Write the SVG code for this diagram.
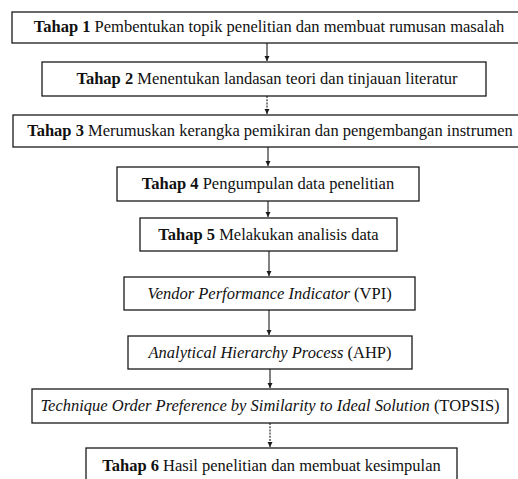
<svg xmlns="http://www.w3.org/2000/svg" width="518" height="479" viewBox="0 0 518 479">
<defs>
<marker id="ah" markerWidth="6" markerHeight="6" refX="5" refY="3" orient="auto" markerUnits="userSpaceOnUse">
<path d="M0,0.5 L5,3 L0,5.5 Z" fill="#1a1a1a"/>
</marker>
<style>
.box{fill:#fff;stroke:#1a1a1a;stroke-width:1.3}
.t{font-family:"Liberation Serif","Times New Roman",serif;font-size:16.5px;fill:#111;text-anchor:middle}
.b{font-weight:bold}
.i{font-style:italic}
.c{stroke:#1a1a1a;stroke-width:1.1;fill:none;marker-end:url(#ah)}
.d{stroke-dasharray:2 1.2}
</style>
</defs>
<rect width="518" height="479" fill="#fff"/>
<g id="connectors">
<line class="c" x1="267" y1="43" x2="267" y2="61"/>
<line class="c d" x1="267" y1="96" x2="267" y2="114"/>
<line class="c" x1="268" y1="147" x2="268" y2="166"/>
<line class="c" x1="268" y1="201" x2="268" y2="217"/>
<line class="c" x1="269" y1="251" x2="269" y2="276"/>
<line class="c" x1="269" y1="310" x2="269" y2="335"/>
<line class="c" x1="270" y1="369" x2="270" y2="388"/>
<line class="c d" x1="270" y1="423" x2="270" y2="447"/>
</g>
<g id="n1">
<rect class="box" x="12" y="12" width="520" height="31"/>
<text class="t" x="269" y="32"><tspan class="b">Tahap 1</tspan> Pembentukan topik penelitian dan membuat rumusan masalah</text>
</g>
<g id="n2">
<rect class="box" x="42" y="62" width="444" height="34"/>
<text class="t" x="267" y="84"><tspan class="b">Tahap 2</tspan> Menentukan landasan teori dan tinjauan literatur</text>
</g>
<g id="n3">
<rect class="box" x="13" y="115" width="520" height="32"/>
<text class="t" x="270" y="136"><tspan class="b">Tahap 3</tspan> Merumuskan kerangka pemikiran dan pengembangan instrumen</text>
</g>
<g id="n4">
<rect class="box" x="117" y="167" width="302" height="34"/>
<text class="t" x="268" y="189"><tspan class="b">Tahap 4</tspan> Pengumpulan data penelitian</text>
</g>
<g id="n5">
<rect class="box" x="140" y="218" width="257" height="33"/>
<text class="t" x="268.5" y="240"><tspan class="b">Tahap 5</tspan> Melakukan analisis data</text>
</g>
<g id="n6">
<rect class="box" x="124" y="277" width="291" height="33"/>
<text class="t" x="269.5" y="299"><tspan class="i">Vendor Performance Indicator</tspan> (VPI)</text>
</g>
<g id="n7">
<rect class="box" x="128" y="336" width="284" height="33"/>
<text class="t" x="270" y="358"><tspan class="i">Analytical Hierarchy Process</tspan> (AHP)</text>
</g>
<g id="n8">
<rect class="box" x="32" y="389" width="476" height="34"/>
<text class="t" x="270" y="411"><tspan class="i">Technique Order Preference by Similarity to Ideal Solution</tspan> (TOPSIS)</text>
</g>
<g id="n9">
<rect class="box" x="86" y="448" width="371" height="40"/>
<text class="t" x="271.5" y="471"><tspan class="b">Tahap 6</tspan> Hasil penelitian dan membuat kesimpulan</text>
</g>
</svg>
